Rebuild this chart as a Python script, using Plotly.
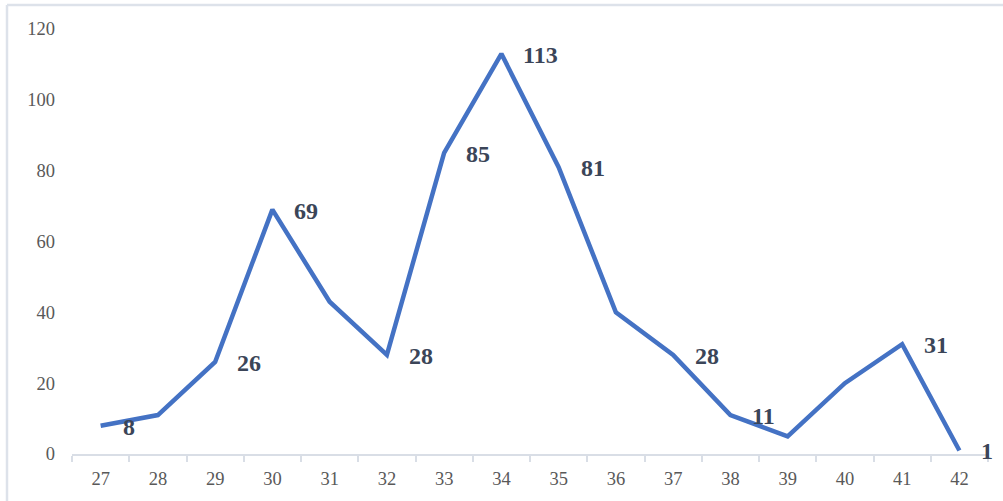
import plotly.graph_objects as go

categories = ["27", "28", "29", "30", "31", "32", "33", "34", "35", "36", "37", "38", "39", "40", "41", "42"]
values = [8, 11, 26, 69, 43, 28, 85, 113, 81, 40, 28, 11, 5, 20, 31, 1]
labeled = ["27", "29", "30", "32", "33", "34", "35", "37", "38", "41", "42"]
y_ticks = [0, 20, 40, 60, 80, 100, 120]

W, H = 1003, 501
ML, MR, MT, MB = 72, 15, 29, 47

fig = go.Figure()
fig.add_trace(go.Scatter(
    x=categories, y=values, mode="lines",
    line=dict(color="#4472C4", width=4.5),
    hoverinfo="skip", showlegend=False,
))

annotations = []
for i, (c, v) in enumerate(zip(categories, values)):
    if c in labeled:
        annotations.append(dict(
            x=i, y=v, xref="x", yref="y", text="<b>%d</b>" % v, showarrow=False,
            xanchor="left", yanchor="middle", xshift=20, yshift=-1,
            font=dict(family="Liberation Serif", size=24, color="#3b4558"),
        ))

pw = W - ML - MR
ph = H - MT - MB
def px_to_paper_x(px):
    return (px - ML) / pw
def px_to_paper_y(py):
    return (H - MB - py) / ph

border_color = "#dde2ea"
shapes = [
    dict(type="line", xref="paper", yref="paper",
         x0=px_to_paper_x(7), x1=px_to_paper_x(1010),
         y0=px_to_paper_y(5), y1=px_to_paper_y(5),
         line=dict(color=border_color, width=2.5)),
    dict(type="line", xref="paper", yref="paper",
         x0=px_to_paper_x(7), x1=px_to_paper_x(7),
         y0=px_to_paper_y(5), y1=px_to_paper_y(510),
         line=dict(color=border_color, width=2.5)),
]

fig.update_layout(
    width=W, height=H,
    margin=dict(l=ML, r=MR, t=MT, b=MB),
    paper_bgcolor="white", plot_bgcolor="white",
    annotations=annotations, shapes=shapes,
    xaxis=dict(
        type="category", range=[-0.5, len(categories) - 0.5],
        tickson="boundaries", ticks="outside", ticklen=6, tickwidth=1.5,
        tickcolor="#d9dee6", showline=True, linecolor="#d9dee6", linewidth=1.5,
        showgrid=False, zeroline=False,
        tickfont=dict(family="Liberation Serif", size=18.5, color="#595959"),
        ticklabelstandoff=7,
    ),
    yaxis=dict(
        range=[0, 120], tickvals=y_ticks, showgrid=False, zeroline=False,
        showline=False, ticks="",
        tickfont=dict(family="Liberation Serif", size=18.5, color="#595959"),
        ticklabelstandoff=16,
    ),
)

fig.write_html("out.html")
